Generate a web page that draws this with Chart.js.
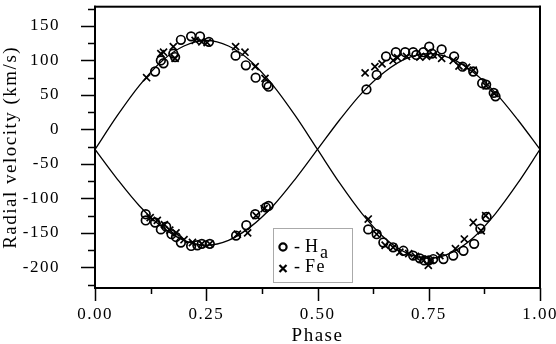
<!DOCTYPE html>
<html lang="en">
<head>
<meta charset="utf-8">
<script src="https://cdn.jsdelivr.net/npm/chart.js"></script>
<style>
  html, body { margin: 0; padding: 0; background: #fff; }
  #wrap { width: 556px; height: 344px; }
</style>
</head>
<body>
<div id="wrap"><canvas id="rvChart"></canvas></div>
<script>
// fitted curves, every 0.05 in phase
const curvePhase = [0, 0.05, 0.10, 0.15, 0.20, 0.25, 0.30, 0.35, 0.40, 0.45, 0.50,
                    0.55, 0.60, 0.65, 0.70, 0.75, 0.80, 0.85, 0.90, 0.95, 1.00];
const curvePrimary = [-29, 20, 64, 99, 121, 129, 121, 99, 64, 20, -29,
                      -78, -122, -157, -179, -187, -179, -157, -122, -78, -29];
const curveSecondary = [-29, -72, -111, -141, -161, -168, -161, -141, -111, -72, -29,
                        14, 53, 83, 103, 110, 103, 83, 53, 14, -29];

// H alpha measurements (circles)
const haPhase = [0.135, 0.148, 0.154, 0.176, 0.180, 0.193, 0.216, 0.236, 0.256, 0.316, 0.339, 0.361, 0.386, 0.390,
                 0.114, 0.114, 0.135, 0.148, 0.160, 0.172, 0.182, 0.193, 0.216, 0.230, 0.240, 0.258, 0.317, 0.340, 0.360, 0.384, 0.390,
                 0.610, 0.633, 0.654, 0.676, 0.697, 0.715, 0.722, 0.738, 0.751, 0.757, 0.779, 0.807, 0.826, 0.850, 0.870, 0.879, 0.896, 0.900,
                 0.614, 0.633, 0.648, 0.670, 0.693, 0.715, 0.730, 0.740, 0.750, 0.760, 0.783, 0.805, 0.828, 0.852, 0.866, 0.880];
const haVel = [84, 100, 96, 110, 105, 130, 135, 135, 127, 107, 93, 75, 65, 62,
               -123, -132, -135, -145, -141, -152, -156, -164, -169, -168, -166, -166, -154, -139, -123, -113, -111,
               58, 79, 106, 112, 112, 112, 108, 112, 120, 110, 116, 106, 91, 84, 67, 65, 53, 48,
               -145, -152, -164, -171, -176, -183, -187, -190, -190, -188, -188, -183, -176, -166, -144, -127];

// Fe measurements (crosses)
const fePhase = [0.116, 0.148, 0.154, 0.176, 0.180, 0.225, 0.240, 0.252, 0.316, 0.337, 0.360, 0.382,
                 0.124, 0.140, 0.156, 0.168, 0.182, 0.200, 0.219, 0.240, 0.258, 0.320, 0.343, 0.362, 0.380,
                 0.607, 0.629, 0.645, 0.670, 0.680, 0.700, 0.730, 0.745, 0.760, 0.779, 0.805, 0.818, 0.835, 0.850, 0.879, 0.897,
                 0.614, 0.633, 0.652, 0.670, 0.685, 0.705, 0.720, 0.735, 0.749, 0.755, 0.775, 0.810, 0.830, 0.850, 0.868, 0.878];
const feVel = [75, 110, 112, 120, 103, 129, 127, 126, 120, 112, 91, 74,
               -128, -132, -138, -146, -150, -160, -164, -166, -166, -152, -150, -125, -115,
               82, 91, 95, 100, 104, 106, 105, 106, 108, 103, 100, 92, 90, 86, 63, 52,
               -130, -152, -168, -171, -178, -180, -184, -188, -197, -190, -183, -173, -159, -135, -147, -125];

const yMajor = [-200, -150, -100, -50, 0, 50, 100, 150];
const xMajor = [0, 0.25, 0.5, 0.75, 1];

const pts = (xs, ys) => xs.map((x, i) => ({ x: x, y: ys[i] }));
const serif = '"Liberation Serif", "DejaVu Serif", serif';

// axis box, minor/major tick marks and the inset legend
const frame = {
  id: 'frame',
  beforeDraw(chart) { chart.ctx.letterSpacing = '1.5px'; },
  afterDraw(chart) {
    const ctx = chart.ctx, a = chart.chartArea;
    const xs = chart.scales.x, ys = chart.scales.y;
    const w = a.right - a.left, h = a.bottom - a.top;
    ctx.save();
    ctx.letterSpacing = '0px';
    ctx.fillStyle = '#000';
    ctx.fillRect(a.left - 1, a.top - 1, w + 2, 2);
    ctx.fillRect(a.left - 1, a.bottom - 1, w + 2, 2);
    ctx.fillRect(a.left - 1, a.top - 1, 2, h + 2);
    ctx.fillRect(a.right - 1, a.top - 1, 2, h + 2);
    ctx.strokeStyle = '#000';
    ctx.lineWidth = 1.5;
    ctx.beginPath();
    for (let v = -225; v <= 175; v += 25) {
      const y = Math.round(ys.getPixelForValue(v)) + 0.5;
      const len = yMajor.includes(v) ? 14 : 7;
      ctx.moveTo(a.left - len, y); ctx.lineTo(a.left, y);
    }
    for (let k = 0; k <= 8; k++) {
      const v = k * 0.125;
      const x = Math.round(xs.getPixelForValue(v)) + 0.5;
      const len = xMajor.includes(v) ? 13 : 6;
      ctx.moveTo(x, a.bottom); ctx.lineTo(x, a.bottom + len);
    }
    ctx.stroke();

    // legend
    ctx.fillStyle = '#fff';
    ctx.fillRect(273.5, 228.5, 79, 54);
    ctx.strokeStyle = '#aaa';
    ctx.lineWidth = 1;
    ctx.strokeRect(273.5, 228.5, 79, 54);
    ctx.strokeStyle = '#000';
    ctx.lineWidth = 2.2;
    ctx.beginPath();
    ctx.arc(283, 247, 3.6, 0, Math.PI * 2);
    ctx.stroke();
    ctx.beginPath();
    ctx.moveTo(279.5, 265); ctx.lineTo(286.5, 272);
    ctx.moveTo(286.5, 265); ctx.lineTo(279.5, 272);
    ctx.stroke();
    ctx.fillStyle = '#000';
    ctx.letterSpacing = '1.5px';
    ctx.font = '18px ' + serif;
    ctx.textBaseline = 'alphabetic';
    ctx.textAlign = 'left';
    ctx.fillText('-', 294, 252);
    ctx.fillText('H', 305, 252);
    ctx.fillText('a', 320, 258);
    ctx.fillText('-', 294, 272);
    ctx.fillText('Fe', 305, 272);
    ctx.restore();
  }
};

new Chart(document.getElementById('rvChart'), {
  type: 'scatter',
  data: {
    datasets: [
      { data: pts(curvePhase, curvePrimary), showLine: true, cubicInterpolationMode: 'monotone',
        borderColor: '#000', borderWidth: 1.3, pointRadius: 0 },
      { data: pts(curvePhase, curveSecondary), showLine: true, cubicInterpolationMode: 'monotone',
        borderColor: '#000', borderWidth: 1.3, pointRadius: 0 },
      { label: 'Ha', data: pts(haPhase, haVel), pointStyle: 'circle', pointRadius: 4.3,
        borderColor: '#000', backgroundColor: 'rgba(0,0,0,0)', borderWidth: 1.7 },
      { label: 'Fe', data: pts(fePhase, feVel), pointStyle: 'crossRot', pointRadius: 5,
        borderColor: '#000', borderWidth: 1.7 }
    ]
  },
  options: {
    responsive: true,
    maintainAspectRatio: false,
    animation: false,
    layout: { padding: { top: 2, right: 16, left: 0, bottom: 0 } },
    plugins: { legend: { display: false }, tooltip: { enabled: false } },
    scales: {
      x: {
        type: 'linear', min: 0, max: 1,
        afterFit: s => { s.height = 56; s.paddingLeft = 0; s.paddingRight = 0; },
        afterBuildTicks: s => { s.ticks = xMajor.map(v => ({ value: v })); },
        grid: { display: false },
        border: { display: false },
        ticks: { color: '#000', padding: 8, maxRotation: 0, font: { family: serif, size: 17 },
                 callback: v => v.toFixed(2) },
        title: { display: true, text: 'Phase', color: '#000',
                 font: { family: serif, size: 19, lineHeight: 0.8 }, padding: { top: 0, bottom: 0 } }
      },
      y: {
        type: 'linear', min: -230, max: 178,
        afterFit: s => { s.width = 95; s.paddingTop = 0; s.paddingBottom = 0; },
        afterBuildTicks: s => { s.ticks = yMajor.map(v => ({ value: v })); },
        grid: { display: false },
        border: { display: false },
        ticks: { color: '#000', padding: 27, font: { family: serif, size: 17 } },
        title: { display: true, text: 'Radial velocity (km/s)', color: '#000',
                 font: { family: serif, size: 19, lineHeight: 1.2 }, padding: { top: 0, bottom: 0 } }
      }
    }
  },
  plugins: [frame]
});
</script>
</body>
</html>
